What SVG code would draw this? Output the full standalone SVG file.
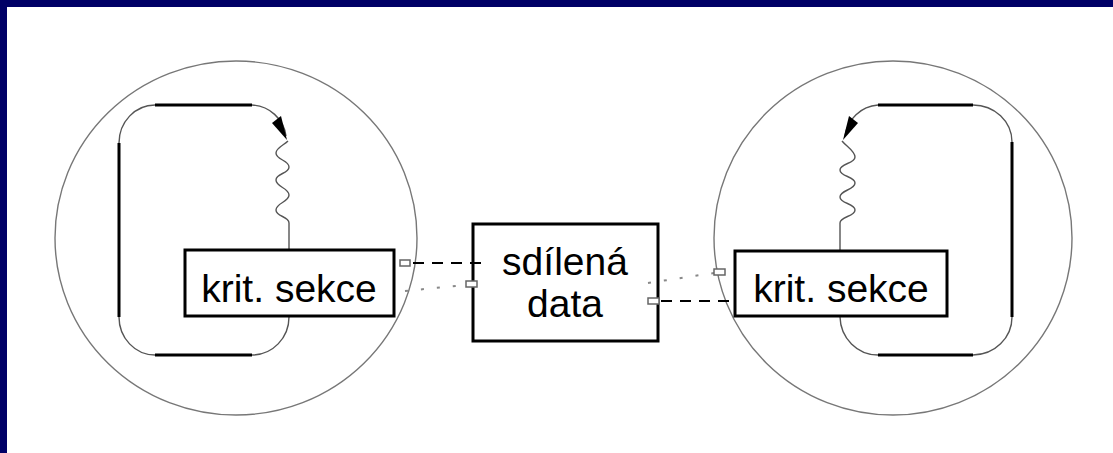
<svg xmlns="http://www.w3.org/2000/svg" width="1113" height="453" viewBox="0 0 1113 453">
<style>
.bg{fill:#ffffff}
.frame{fill:#000066}
.circ{fill:none;stroke:#777;stroke-width:1.4}
.thick{fill:none;stroke:#000;stroke-width:3}
.thin{fill:none;stroke:#555;stroke-width:1.4}
.box{fill:#fff;stroke:#000;stroke-width:3}
.lbl{font-family:"Liberation Sans",Arial,sans-serif;font-size:39px;fill:#000;text-anchor:middle}
.dash{fill:none;stroke:#000;stroke-width:2;stroke-dasharray:11 8}
.dot{fill:none;stroke:#888;stroke-width:2;stroke-dasharray:3 13}
.mk{fill:#fff;stroke:#666;stroke-width:1.5}
</style>
<rect class="bg" x="0" y="0" width="1113" height="453"/>
<rect class="frame" x="0" y="0" width="1113" height="7"/>
<rect class="frame" x="0" y="0" width="7" height="453"/>

<g id="process-left">
<ellipse class="circ" cx="236" cy="238" rx="181" ry="177"/>
<path class="thick" d="M155,105 H252 M119,143 V317 M155,355 H252"/>
<path class="thin" d="M119,143 A36,38 0 0 1 155,105 M252,105 A36,36 0 0 1 286,136 M119,317 A36,38 0 0 0 155,355 M252,355 A37,38 0 0 0 289,317"/>
<path class="thin" d="M288,141 C284,145 276,148 276,153 C276,160 289,160 289,167 C289,174 276,173 276,180 C276,187 289,188 289,195 C289,202 276,203 276,210 C276,217 289,216 289,223 L289,250"/>
<polygon points="272,123 281,116 287,140" fill="#000"/>
</g>

<g id="process-right">
<ellipse class="circ" cx="893" cy="238" rx="179" ry="177"/>
<path class="thick" d="M878,105 H973 M1012,142 V317 M878,355 H973"/>
<path class="thin" d="M878,105 A36,36 0 0 0 845,136 M973,105 A39,37 0 0 1 1012,142 M1012,317 A39,38 0 0 1 973,355 M878,355 A38,39 0 0 1 840,317"/>
<path class="thin" d="M842,141 C846,146 855,151 855,157 C855,164 840,163 840,170 C840,177 855,176 855,183 C855,190 840,190 840,197 C840,204 855,203 855,210 C855,217 840,216 840,223 L840,250"/>
<polygon points="849,116 858,123 843,140" fill="#000"/>
</g>

<g id="krit-sekce-left">
<rect class="box" x="185" y="250" width="209" height="66"/>
<text class="lbl" x="289" y="302">krit. sekce</text>
</g>

<g id="krit-sekce-right">
<rect class="box" x="735" y="251" width="212" height="65"/>
<text class="lbl" x="841" y="302">krit. sekce</text>
</g>

<g id="sdilena-data">
<rect class="box" x="473" y="224" width="185" height="117"/>
<text class="lbl" x="565" y="275">sdílená</text>
<text class="lbl" x="565" y="317">data</text>
</g>

<g id="connectors">
<path class="dash" d="M413,263 H483"/>
<path class="dot" d="M405,291 L465,285"/>
<path class="dot" d="M648,283 L714,273"/>
<path class="dash" d="M661,301 H735"/>
<rect class="mk" x="400" y="260" width="10" height="6"/>
<rect class="mk" x="466" y="281" width="11" height="6"/>
<rect class="mk" x="714" y="269" width="11" height="6"/>
<rect class="mk" x="648" y="298" width="11" height="6"/>
</g>
</svg>
